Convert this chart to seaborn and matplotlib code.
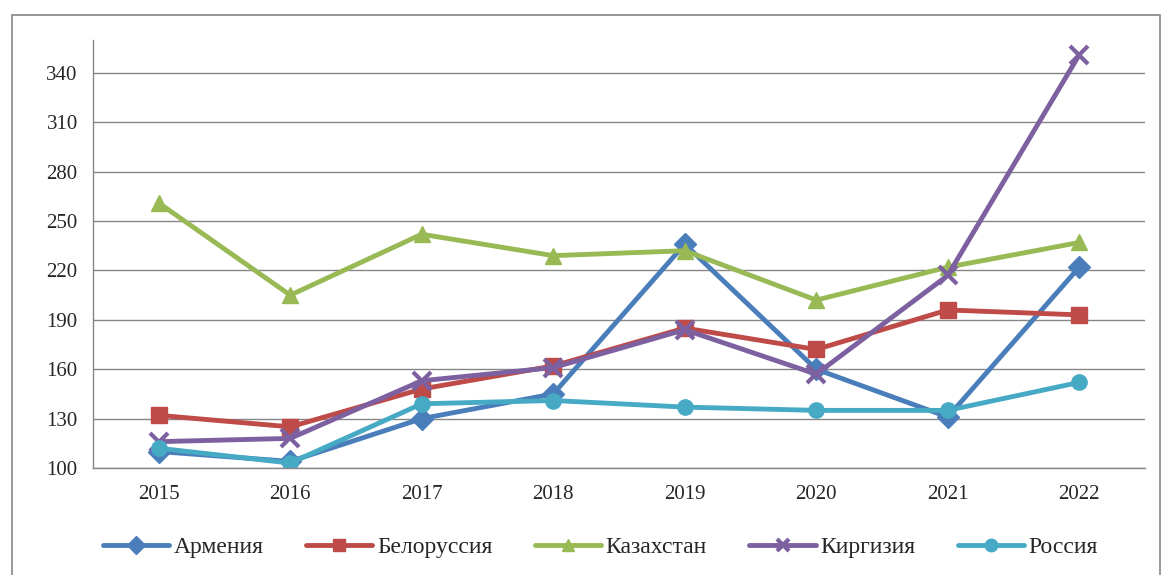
import matplotlib
matplotlib.use("Agg")
import matplotlib.pyplot as plt
import numpy as np
import pandas as pd
import seaborn as sns
from matplotlib.patches import Rectangle

years = ["2015", "2016", "2017", "2018", "2019", "2020", "2021", "2022"]
countries = ["Армения", "Белоруссия", "Казахстан", "Киргизия", "Россия"]
armenia = [110, 104, 130, 145, 236, 160, 131, 222]
belarus = [132, 125, 148, 162, 185, 172, 196, 193]
kazakhstan = [261, 205, 242, 229, 232, 202, 222, 237]
kyrgyzstan = [116, 118, 153, 161, 184, 157, 217, 351]
russia = [112, 103, 139, 141, 137, 135, 135, 152]

colors = ["#4A7EBB", "#BE4B48", "#98B954", "#7D60A0", "#46AAC5"]
markers = ["D", "s", "^", "x", "o"]

series = [armenia, belarus, kazakhstan, kyrgyzstan, russia]
df = pd.DataFrame(
    [(i, c, v) for c, vals in zip(countries, series) for i, v in enumerate(vals)],
    columns=["pos", "country", "value"],
)

sns.set_style("white")
plt.rcParams["font.family"] = ["Liberation Serif", "DejaVu Serif"]

fig = plt.figure(figsize=(11.66, 5.75), dpi=100)
ax = fig.add_axes([93 / 1166, 1 - 468 / 575, (1145 - 93) / 1166, (468 - 40) / 575])

# seaborn won't mix filled and line-art markers, so draw "X" and swap to "x" after
sns.lineplot(
    data=df, x="pos", y="value", hue="country", style="country",
    hue_order=countries, style_order=countries,
    palette=colors, markers=[m if m != "x" else "X" for m in markers], dashes=False,
    linewidth=3.5, markersize=11, ax=ax, legend=False,
)
for line, c, m in zip(ax.lines, colors, markers):
    line.set_marker(m)
    line.set_markeredgecolor(c)
    line.set_markerfacecolor(c)
    line.set_markeredgewidth(3 if m == "x" else 1)
    if m == "x":
        line.set_markersize(13)

ax.set_xlim(-0.5, 7.5)
ax.set_ylim(100, 360)
ax.set_yticks(np.arange(100, 341, 30))
ax.set_xticks(range(len(years)))
ax.set_xticklabels(years)
ax.set_xticks(np.arange(-0.5, 7.6, 1), minor=True)
ax.tick_params(axis="x", which="major", length=0, pad=12, labelsize=15)
ax.tick_params(axis="x", which="minor", length=5, color="#868686", direction="out")
ax.tick_params(axis="y", length=5, color="#868686", direction="out", labelsize=15, pad=6)
ax.yaxis.grid(True, color="#868686", linewidth=1)
ax.set_axisbelow(True)
for s in ["top", "right"]:
    ax.spines[s].set_visible(False)
for s in ["left", "bottom"]:
    ax.spines[s].set_color("#868686")
    ax.spines[s].set_linewidth(1)
ax.set_xlabel("")
ax.set_ylabel("")

handles = [
    plt.Line2D([], [], color=c, marker=m, linewidth=3.5, markersize=9,
               markeredgewidth=3 if m == "x" else 1)
    for c, m in zip(colors, markers)
]
fig.legend(
    handles, countries, loc="center", bbox_to_anchor=(0.515, 1 - 547 / 575),
    ncol=5, frameon=False, fontsize=17, handlelength=2.8, columnspacing=1.8,
    handletextpad=0.2,
)

fig.patches.append(Rectangle((12 / 1166, -0.01), (1160 - 12) / 1166, 1 - 15 / 575 + 0.01,
                             transform=fig.transFigure, fill=False,
                             edgecolor="#868686", linewidth=1.2))

fig.savefig("out.png", dpi=100)
